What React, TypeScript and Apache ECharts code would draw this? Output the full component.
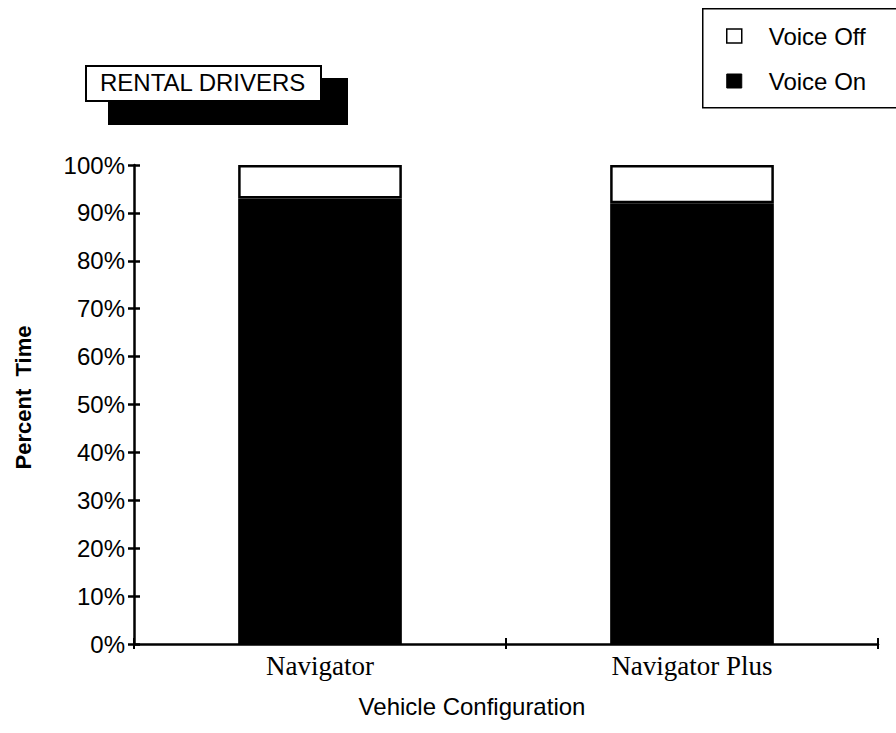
import React, { useEffect, useRef } from "react";
import * as echarts from "echarts";

const categories = ["Navigator", "Navigator Plus"];
const voiceOn = [93, 92];
const voiceOff = [7, 8];
const yTicks = [0, 10, 20, 30, 40, 50, 60, 70, 80, 90, 100];

export default function App() {
  const ref = useRef<HTMLDivElement>(null);
  useEffect(() => {
    if (!ref.current) return;
    const chart = echarts.init(ref.current, undefined, { renderer: "svg" });
    const sans = "'Liberation Sans', Arial, sans-serif";
    const serif = "'Liberation Serif', 'Times New Roman', serif";
    chart.setOption({
      animation: false,
      backgroundColor: "#fff",
      grid: { left: 134, right: 18, top: 165, bottom: 89 },
      legend: {
        orient: "vertical",
        left: 726,
        top: 24,
        padding: 0,
        itemWidth: 15,
        itemHeight: 14,
        itemGap: 21,
        selectedMode: false,
        textStyle: { fontFamily: sans, fontSize: 24, color: "#000", padding: [0, 0, 0, 22] },
        data: [
          { name: "Voice Off", icon: "rect", itemStyle: { color: "#fff", borderColor: "#000", borderWidth: 1.5 } },
          { name: "Voice On", icon: "rect", itemStyle: { color: "#000", borderColor: "#000", borderWidth: 1 } },
        ],
      },
      xAxis: [
        {
          type: "category",
          data: categories,
          boundaryGap: true,
          name: "Vehicle Configuration",
          nameLocation: "middle",
          nameGap: 50,
          nameTextStyle: { fontFamily: sans, fontSize: 24, color: "#000", padding: [0, 68, 0, 0] },
          axisLine: { lineStyle: { color: "#000", width: 2.5 } },
          axisTick: { show: true, length: 5, lineStyle: { color: "#000", width: 2 } },
          axisLabel: { fontFamily: serif, fontSize: 27, color: "#000", margin: 8 },
        },
        {
          type: "category",
          data: categories,
          boundaryGap: true,
          position: "bottom",
          axisLine: { show: false },
          axisTick: { show: true, inside: true, length: 6, lineStyle: { color: "#000", width: 2 } },
          axisLabel: { show: false },
        },
      ],
      yAxis: [
        {
          type: "value",
          min: 0,
          max: 100,
          interval: 10,
          name: "Percent  Time",
          nameLocation: "middle",
          nameGap: 100,
          nameTextStyle: { fontFamily: sans, fontSize: 22, fontWeight: "bold", color: "#000", padding: [0, 0, 0, 14] },
          axisLine: { show: true, lineStyle: { color: "#000", width: 2.5 } },
          axisTick: { show: true, length: 6, lineStyle: { color: "#000", width: 2.5 } },
          splitLine: { show: false },
          axisLabel: {
            fontFamily: sans,
            fontSize: 24,
            color: "#000",
            margin: 9,
            formatter: (v: number) => (yTicks.includes(v) ? v + "%" : ""),
          },
        },
        {
          type: "value",
          min: 0,
          max: 100,
          interval: 10,
          position: "left",
          axisLine: { show: false },
          axisTick: { show: true, inside: true, length: 6, lineStyle: { color: "#000", width: 2.5 } },
          splitLine: { show: false },
          axisLabel: { show: false },
        },
      ],
      series: [
        {
          name: "Voice On",
          type: "bar",
          stack: "t",
          barWidth: "44%",
          data: voiceOn,
          itemStyle: { color: "#000", borderColor: "#000", borderWidth: 2 },
        },
        {
          name: "Voice Off",
          type: "bar",
          stack: "t",
          barWidth: "44%",
          data: voiceOff,
          itemStyle: { color: "#fff", borderColor: "#000", borderWidth: 2.5 },
        },
      ],
      graphic: [
        { type: "rect", left: 702, top: 8, shape: { width: 220, height: 99 }, style: { fill: "#fff", stroke: "#000", lineWidth: 1.5 }, z: -1 },
        { type: "rect", left: 108, top: 78, shape: { width: 240, height: 47 }, style: { fill: "#000" } },
        { type: "rect", left: 85, top: 65, shape: { width: 235, height: 35 }, style: { fill: "#fff", stroke: "#000", lineWidth: 2 } },
        {
          type: "text",
          left: 100,
          top: 70,
          style: { text: "RENTAL DRIVERS", fontFamily: sans, fontSize: 24, fill: "#000" },
        },
      ],
    });
    return () => chart.dispose();
  }, []);
  return <div ref={ref} style={{ position: "fixed", left: 0, top: 0, width: 896, height: 733 }} />;
}
